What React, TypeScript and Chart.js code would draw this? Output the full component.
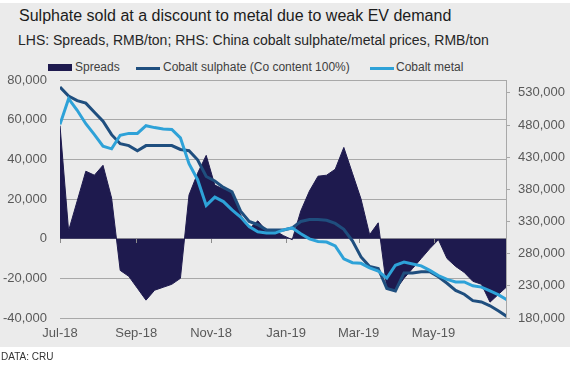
import React, { useEffect, useRef } from "react";
import { Chart, registerables } from "chart.js";

Chart.register(...registerables);

const titleText = "Sulphate sold at a discount to metal due to weak EV demand";
const subtitleText = "LHS: Spreads, RMB/ton; RHS: China cobalt sulphate/metal prices, RMB/ton";
const sourceText = "DATA: CRU";

// weekly observations starting on this date
const startDate = "2018-07-01";
const endDate = "2019-06-30";
const tickDates = ["2018-07-01", "2018-09-01", "2018-11-01", "2019-01-01", "2019-03-01", "2019-05-01"];
const tickLabels = ["Jul-18", "Sep-18", "Nov-18", "Jan-19", "Mar-19", "May-19"];

// LHS: spreads, RMB/ton
const spreads = [
  57000, 4000, 19000, 34000, 32000, 37000, 20500, -16000, -19000, -25000,
  -31000, -26000, -24500, -23000, -20000, 22000, 33000, 42000, 27000, 25000,
  24000, 12000, 5000, 9000, 4000, 4000, 1500, -500, 14000, 24000,
  31500, 32000, 35000, 46000, 33000, 20000, 2000, 8000, -25000, -26000,
  -20000, -15000, -10000, -5000, -500, -10000, -14000, -17000, -21500, -23000,
  -32000, -28000, -24000,
];

// RHS: cobalt sulphate (Co content 100%), RMB/ton
const sulphate = [
  539000, 525000, 518000, 514000, 500000, 486000, 465000, 451000, 448000, 440000,
  448000, 448000, 448000, 448000, 442000, 440000, 426000, 400000, 393000, 383000,
  376000, 346000, 330000, 325000, 317000, 317000, 317000, 320000, 330000, 333000,
  333000, 332000, 327000, 318000, 300000, 275000, 260000, 257000, 226000, 222000,
  250000, 250000, 252000, 252000, 244000, 234000, 223000, 217000, 207000, 205000,
  199000, 191000, 182000,
];

// RHS: cobalt metal, RMB/ton
const metal = [
  481000, 521000, 503000, 482000, 465000, 447000, 443000, 464000, 467000, 467000,
  479000, 476000, 474000, 473000, 460000, 420000, 395000, 355000, 368000, 361000,
  348000, 337000, 322000, 314000, 312000, 312000, 317000, 320000, 311000, 303000,
  299000, 298000, 292000, 272000, 266000, 265000, 258000, 253000, 242000, 262000,
  267000, 264000, 261000, 254000, 246000, 240000, 236000, 236000, 230000, 228000,
  222000, 216000, 208000,
];

const leftMin = -40000;
const leftMax = 80000;
const leftStep = 20000;
const rightMin = 180000;
const rightMax = 550000;
const rightTicks = [180000, 230000, 280000, 330000, 380000, 430000, 480000, 530000];

const NAVY = "#1e1a4e";
const SULPHATE = "#1f4e7e";
const METAL = "#2ea2d8";
const BG = "#ebebeb";
const GRID = "#a8a8a8";
const TICK_TEXT = "#595959";
const FONT = '"Liberation Sans", Arial, Helvetica, sans-serif';

const DAY = 86400000;
const dayOffset = (d: string) =>
  Math.round((Date.parse(d + "T00:00:00Z") - Date.parse(startDate + "T00:00:00Z")) / DAY);

const zeroTicks = {
  id: "zeroTicks",
  afterDatasetsDraw(chart: any) {
    const xs = chart.scales.x;
    const ys = chart.scales.y;
    const y0 = Math.round(ys.getPixelForValue(0));
    const ctx = chart.ctx;
    ctx.save();
    ctx.strokeStyle = "#8c8c8c";
    ctx.lineWidth = 1;
    xs.ticks.forEach((t: any) => {
      const px = Math.round(xs.getPixelForValue(t.value)) + 0.5;
      ctx.beginPath();
      ctx.moveTo(px, y0);
      ctx.lineTo(px, y0 + 4);
      ctx.stroke();
    });
    ctx.restore();
  },
};

function ChartCanvas() {
  const ref = useRef<HTMLCanvasElement | null>(null);
  useEffect(() => {
    if (!ref.current) return;
    Chart.defaults.font.family = FONT;
    const toPts = (arr: number[]) => arr.map((v, i) => ({ x: i * 7, y: v }));
    const tickDays = tickDates.map(dayOffset);
    const chart = new Chart(ref.current, {
      type: "line",
      data: {
        datasets: [
          {
            label: "Cobalt metal",
            data: toPts(metal),
            yAxisID: "y1",
            borderColor: METAL,
            borderWidth: 3,
            pointRadius: 0,
            fill: false,
            tension: 0,
            order: 0,
          },
          {
            label: "Cobalt sulphate (Co content 100%)",
            data: toPts(sulphate),
            yAxisID: "y1",
            borderColor: SULPHATE,
            borderWidth: 3,
            pointRadius: 0,
            fill: false,
            tension: 0,
            order: 1,
          },
          {
            label: "Spreads",
            data: toPts(spreads),
            yAxisID: "y",
            borderColor: NAVY,
            backgroundColor: NAVY,
            borderWidth: 1,
            pointRadius: 0,
            fill: "origin",
            tension: 0,
            order: 2,
          },
        ],
      },
      options: {
        animation: false,
        responsive: false,
        maintainAspectRatio: false,
        layout: { padding: { top: 80, bottom: 19, left: 0, right: 0 } },
        plugins: {
          legend: { display: false },
          title: { display: false },
          tooltip: { enabled: false },
        },
        scales: {
          x: {
            type: "linear",
            min: 0,
            max: dayOffset(endDate) - 1,
            grid: { display: false, drawTicks: false },
            border: { display: false },
            afterBuildTicks: (s: any) => {
              s.ticks = tickDays.map((v) => ({ value: v }));
            },
            afterFit: (s: any) => {
              s.height = 30;
            },
            ticks: {
              autoSkip: false,
              maxRotation: 0,
              padding: 8,
              color: TICK_TEXT,
              font: { size: 13, family: FONT },
              callback: (v: any) => {
                const i = tickDays.indexOf(Number(v));
                return i >= 0 ? tickLabels[i] : "";
              },
            },
          },
          y: {
            position: "left",
            min: leftMin,
            max: leftMax,
            grid: { color: GRID, drawTicks: false, lineWidth: 1 },
            border: { display: false },
            afterFit: (s: any) => {
              s.width = 60;
            },
            ticks: {
              stepSize: leftStep,
              padding: 13,
              color: TICK_TEXT,
              font: { size: 13, family: FONT },
            },
          },
          y1: {
            position: "right",
            min: rightMin,
            max: rightMax,
            grid: { drawOnChartArea: false, drawTicks: true, tickLength: 4, color: GRID },
            border: { display: true, color: GRID },
            afterBuildTicks: (s: any) => {
              s.ticks = rightTicks.map((v) => ({ value: v }));
            },
            afterFit: (s: any) => {
              s.width = 64;
            },
            ticks: {
              padding: 8,
              color: TICK_TEXT,
              font: { size: 13, family: FONT },
            },
          },
        },
      } as any,
      plugins: [zeroTicks],
    });
    return () => chart.destroy();
  }, []);
  return <canvas ref={ref} width={570} height={367} style={{ position: "absolute", left: 0, top: 0 }} />;
}

const legendItems = [
  { label: "Spreads", color: NAVY, kind: "box", left: 48, textLeft: 75 },
  { label: "Cobalt sulphate (Co content 100%)", color: SULPHATE, kind: "line", left: 136, textLeft: 163 },
  { label: "Cobalt metal", color: METAL, kind: "line", left: 370, textLeft: 396 },
];

export default function App() {
  return (
    <div
      style={{
        position: "fixed",
        left: 0,
        top: 0,
        width: 570,
        height: 367,
        background: "#ffffff",
        fontFamily: FONT,
        overflow: "hidden",
      }}
    >
      <div style={{ position: "absolute", left: 0, top: 3, width: 570, height: 344, background: BG }} />
      <div
        style={{
          position: "absolute",
          left: 19,
          top: 8,
          fontSize: 16,
          lineHeight: "16px",
          color: "#1c1c1c",
          whiteSpace: "nowrap",
        }}
      >
        {titleText}
      </div>
      <div
        style={{
          position: "absolute",
          left: 18,
          top: 33,
          fontSize: 14,
          lineHeight: "14px",
          color: "#262626",
          whiteSpace: "nowrap",
        }}
      >
        {subtitleText}
      </div>
      {legendItems.map((it) => (
        <React.Fragment key={it.label}>
          <div
            style={{
              position: "absolute",
              left: it.left,
              top: it.kind === "box" ? 64 : 67,
              width: 24,
              height: it.kind === "box" ? 7 : 3,
              background: it.color,
            }}
          />
          <div
            style={{
              position: "absolute",
              left: it.textLeft,
              top: 61,
              fontSize: 12,
              lineHeight: "12px",
              color: "#404040",
              whiteSpace: "nowrap",
            }}
          >
            {it.label}
          </div>
        </React.Fragment>
      ))}
      <ChartCanvas />
      <div
        style={{
          position: "absolute",
          left: 1,
          top: 352,
          fontSize: 10,
          lineHeight: "10px",
          color: "#333333",
          whiteSpace: "nowrap",
        }}
      >
        {sourceText}
      </div>
    </div>
  );
}
